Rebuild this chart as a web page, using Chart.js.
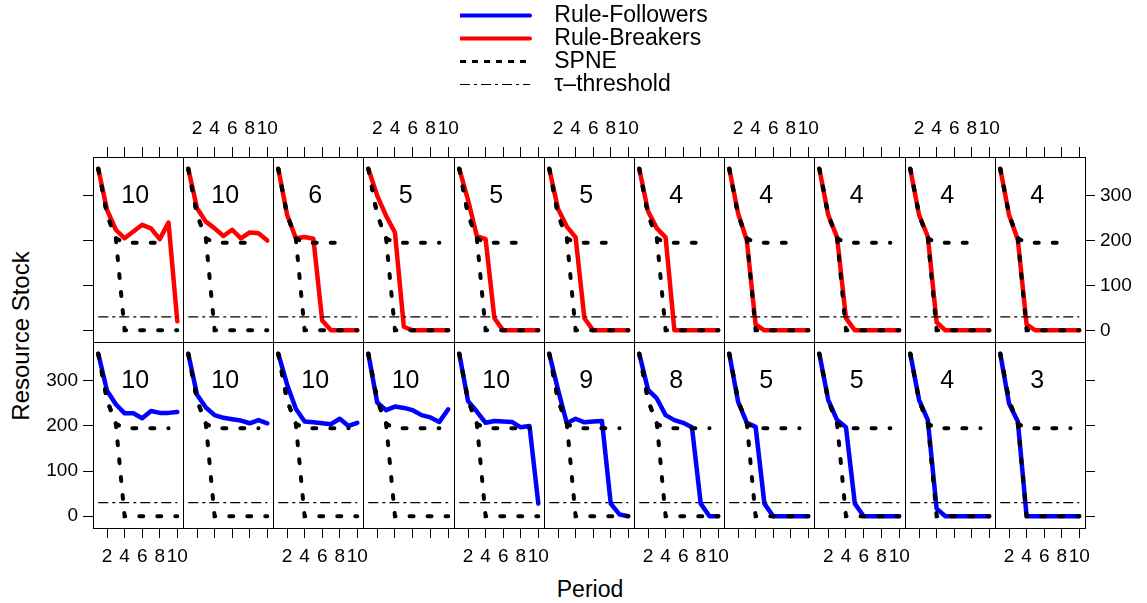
<!DOCTYPE html>
<html lang="en">
<head>
<meta charset="UTF-8" />
<title>Resource Stock by Period</title>
<script src="https://cdn.jsdelivr.net/npm/chart.js"></script>
<style>
  body { margin: 0; background: #fff; width: 1147px; height: 603px; position: relative; overflow: hidden;
         font-family: "Liberation Sans", Arial, sans-serif; }
  canvas { position: absolute; }
  .title { position: absolute; color: #000; white-space: nowrap; }
  #ytitle { left: 21px; top: 336px; font-size: 24px; transform: translate(-50%, -50%) rotate(-90deg); }
  #xtitle { left: 590px; top: 589px; font-size: 23px; transform: translate(-50%, -50%); }
</style>
</head>
<body>
<div class="title" id="ytitle">Resource Stock</div>
<div class="title" id="xtitle">Period</div>
<script>
// ---- data ----
const periods = [1, 2, 3, 4, 5, 6, 7, 8, 9, 10];
const xTicks = [2, 4, 6, 8, 10];
const yTicks = [0, 100, 200, 300];

// SPNE paths: the one that collapses and the one that holds the stock
const spneDrop = [360, 257, 205, 0, 0, 0, 0, 0, 0, 0];
const spneHold = [360, 257, 205, 195, 195, 195, 195, 195, 195, null];
const tauLevel = [30, 30, 30, 30, 30, 30, 30, 30, 30, 30];

// top row: rule-breakers, one array per group
const breakerLabels = ['10', '10', '6', '5', '5', '5', '4', '4', '4', '4', '4'];
const breakerStock = [
  [360, 268, 224, 205, 220, 235, 227, 203, 240, 20],
  [360, 272, 242, 227, 210, 224, 205, 218, 216, 200],
  [360, 258, 205, 208, 204, 22, 0, 0, 0, 0],
  [360, 300, 255, 218, 8, 0, 0, 0, 0, 0],
  [360, 290, 210, 203, 27, 0, 0, 0, 0, 0],
  [360, 270, 231, 207, 27, 0, 0, 0, 0, 0],
  [360, 265, 227, 207, 0, 0, 0, 0, 0, 0],
  [360, 261, 200, 13, 0, 0, 0, 0, 0, 0],
  [360, 257, 207, 27, 0, 0, 0, 0, 0, 0],
  [360, 257, 209, 18, 0, 0, 0, 0, 0, 0],
  [360, 257, 202, 13, 0, 0, 0, 0, 0, 0]
];

// bottom row: rule-followers
const followerLabels = ['10', '10', '10', '10', '10', '9', '8', '5', '5', '4', '3'];
const followerStock = [
  [360, 278, 248, 228, 228, 217, 233, 229, 229, 231],
  [360, 269, 241, 224, 218, 215, 212, 206, 213, 206],
  [360, 292, 238, 210, 208, 206, 204, 216, 200, 207],
  [360, 252, 235, 243, 240, 235, 224, 219, 209, 237],
  [360, 255, 232, 207, 211, 210, 209, 197, 200, 28],
  [360, 280, 206, 216, 208, 210, 211, 28, 4, 0],
  [360, 280, 261, 224, 213, 207, 197, 28, 0, 0],
  [360, 254, 207, 198, 28, 0, 0, 0, 0, 0],
  [360, 258, 213, 197, 28, 0, 0, 0, 0, 0],
  [360, 258, 213, 17, 0, 0, 0, 0, 0, 0],
  [360, 250, 210, 0, 0, 0, 0, 0, 0, 0]
];

const legendNames = ['Rule-Followers', 'Rule-Breakers', 'SPNE', 'τ–threshold'];

// ---- layout ----
const colLeft = [93, 183, 273, 363, 454, 544, 634, 724, 814, 905, 995, 1085];
const rowTop = [157, 342, 528];
const M = 60;                 // margin around each panel for ticks and labels
const xRange = [0.4, 10.65];
const yRange = [-26, 386];
const labelAt = [5.2, 300];   // where the group number sits, in data units

const FOLLOW = '#0000ff';
const BREAK = '#ff0000';

Chart.defaults.font.family = "'Liberation Sans', Arial, sans-serif";
Chart.defaults.color = '#000';

const panelLabel = {
  id: 'panelLabel',
  afterDatasetsDraw(chart, args, opts) {
    const { ctx, scales } = chart;
    ctx.save();
    ctx.font = "25px 'Liberation Sans', Arial, sans-serif";
    ctx.fillStyle = '#000';
    ctx.textAlign = 'center';
    ctx.textBaseline = 'middle';
    ctx.fillText(opts.text, scales.x.getPixelForValue(labelAt[0]), scales.y.getPixelForValue(labelAt[1]));
    ctx.restore();
  }
};

function scaleFor(position, marks, labels) {
  const horizontal = position === 'top' || position === 'bottom';
  return {
    type: 'linear',
    position: position,
    min: horizontal ? xRange[0] : yRange[0],
    max: horizontal ? xRange[1] : yRange[1],
    afterBuildTicks: (s) => { s.ticks = (horizontal ? xTicks : yTicks).map(v => ({ value: v })); },
    afterFit: (s) => { if (horizontal) s.height = M; else s.width = M; },
    grid: { display: marks, drawOnChartArea: false, drawTicks: true, tickLength: 10, color: '#000', lineWidth: 1 },
    border: { display: true, color: '#000', width: 1 },
    ticks: { display: labels, autoSkip: false, maxRotation: 0, minRotation: 0,
             padding: horizontal ? 7 : 5, color: '#000', font: { size: 19 } }
  };
}

function lineSet(values, style) {
  return Object.assign({
    data: periods.map((p, i) => ({ x: p, y: values[i] })),
    xAxisID: 'x', yAxisID: 'y',
    pointRadius: 0, tension: 0, fill: false
  }, style);
}

function makePanel(row, col) {
  const top = row === 0;
  const values = top ? breakerStock[col] : followerStock[col];
  const text = top ? breakerLabels[col] : followerLabels[col];
  const w = colLeft[col + 1] - colLeft[col];
  const h = rowTop[row + 1] - rowTop[row];

  const canvas = document.createElement('canvas');
  canvas.width = w + 2 * M;
  canvas.height = h + 2 * M;
  canvas.style.left = (colLeft[col] - M) + 'px';
  canvas.style.top = (rowTop[row] - M) + 'px';
  document.body.appendChild(canvas);

  const even = col % 2 === 1; // 2nd, 4th ... columns carry the top labels
  new Chart(canvas, {
    type: 'line',
    data: {
      datasets: [
        lineSet(spneDrop, { borderColor: '#000', borderWidth: 4, borderDash: [4, 14], borderCapStyle: 'round' }),
        lineSet(spneHold, { borderColor: '#000', borderWidth: 4, borderDash: [4, 14], borderCapStyle: 'round' }),
        lineSet(tauLevel, { borderColor: '#000', borderWidth: 1.2, borderDash: [10, 4, 3, 4] }),
        lineSet(values, { borderColor: top ? BREAK : FOLLOW, borderWidth: 4.5,
                          borderCapStyle: 'round', borderJoinStyle: 'round' })
      ]
    },
    options: {
      responsive: false,
      animation: false,
      events: [],
      layout: { padding: 0 },
      scales: {
        x: scaleFor('bottom', !top, !top && !even),
        xTop: scaleFor('top', top, top && even),
        y: scaleFor('left', col === 0, col === 0 && !top),
        yRight: scaleFor('right', col === 10, col === 10 && top)
      },
      plugins: {
        legend: { display: false },
        tooltip: { enabled: false },
        panelLabel: { text: text }
      }
    },
    plugins: [panelLabel]
  });
}

for (let r = 0; r < 2; r++) {
  for (let c = 0; c < 11; c++) makePanel(r, c);
}

// ---- legend ----
const legendCanvas = document.createElement('canvas');
legendCanvas.width = 320;
legendCanvas.height = 100;
legendCanvas.style.left = '460px';
legendCanvas.style.top = '4px';
document.body.appendChild(legendCanvas);

new Chart(legendCanvas, {
  type: 'line',
  data: {
    datasets: [
      { label: legendNames[0], data: [], borderColor: FOLLOW, backgroundColor: FOLLOW, borderWidth: 4, borderCapStyle: 'round' },
      { label: legendNames[1], data: [], borderColor: BREAK, backgroundColor: BREAK, borderWidth: 4, borderCapStyle: 'round' },
      { label: legendNames[2], data: [], borderColor: '#000', backgroundColor: '#000', borderWidth: 3, borderDash: [6, 6] },
      { label: legendNames[3], data: [], borderColor: '#000', backgroundColor: '#000', borderWidth: 1, borderDash: [10, 4, 3, 4] }
    ]
  },
  options: {
    responsive: false,
    animation: false,
    events: [],
    scales: { x: { display: false }, y: { display: false } },
    plugins: {
      tooltip: { enabled: false },
      legend: {
        position: 'left',
        align: 'start',
        maxWidth: 320,
        labels: {
          usePointStyle: true,
          pointStyle: 'line',
          pointStyleWidth: 70,
          padding: 0,
          color: '#000',
          font: { size: 23 },
          // the point-style legend ignores the line styles, so copy them from each dataset
          generateLabels: (chart) =>
            Chart.defaults.plugins.legend.labels.generateLabels(chart).map(item => {
              const ds = chart.data.datasets[item.datasetIndex];
              return Object.assign(item, {
                text: '  ' + item.text,
                lineWidth: ds.borderWidth,
                lineDash: ds.borderDash || [],
                lineCap: ds.borderCapStyle || 'butt',
                strokeStyle: ds.borderColor
              });
            })
        }
      }
    }
  }
});
</script>
</body>
</html>
